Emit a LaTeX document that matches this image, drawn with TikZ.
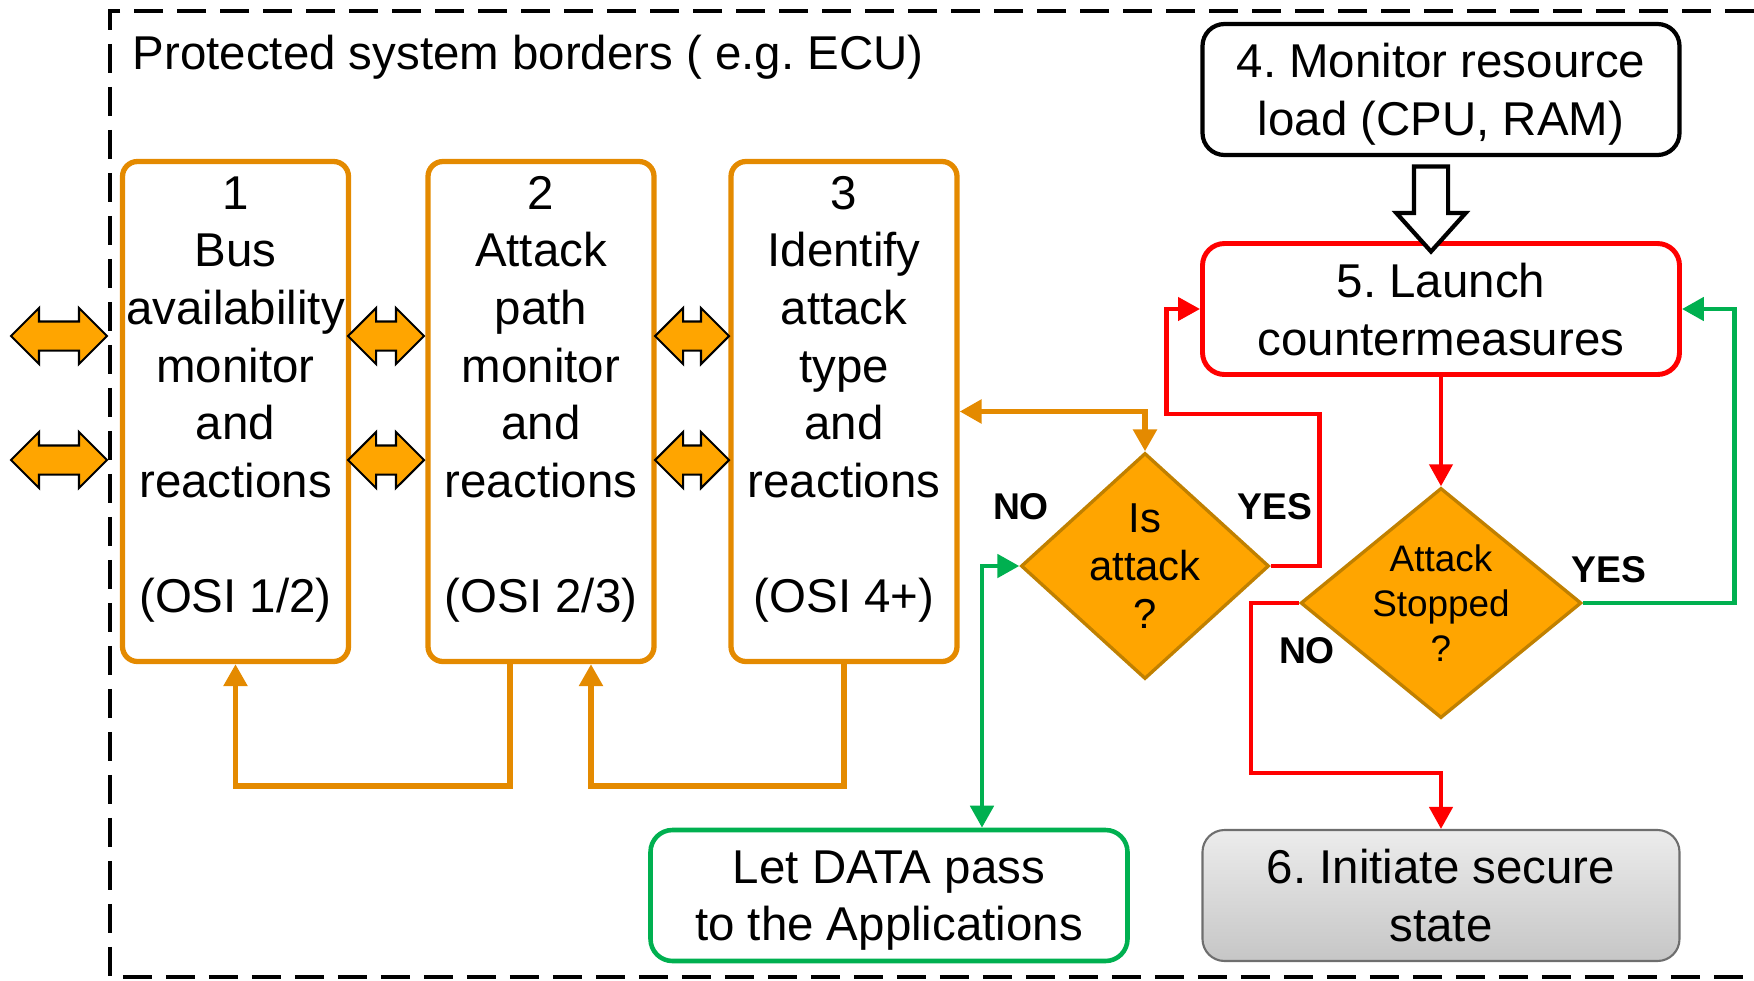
\documentclass[tikz,border=0pt]{standalone}
\usepackage{fontspec}
\setmainfont{Liberation Sans}
\usetikzlibrary{arrows.meta, shapes.geometric, shapes.arrows}
\frenchspacing

\definecolor{lineorange}{RGB}{228,138,0}
\definecolor{difill}{RGB}{255,165,0}
\definecolor{diborder}{RGB}{192,128,0}
\definecolor{alarmred}{RGB}{255,0,0}
\definecolor{passgreen}{RGB}{0,176,80}
\definecolor{shadetop}{RGB}{236,236,236}
\definecolor{shadebottom}{RGB}{198,198,198}
\definecolor{shadeborder}{RGB}{110,110,110}

\begin{document}
\begin{tikzpicture}
    % Define styles
    \tikzset{
        >={Triangle[length=0.22cm, width=0.23cm]},
        border/.style={line width=1.1pt, dash pattern=on 0.29cm off 0.14cm},
        boxtext/.style={font=\fontsize{13.5}{16.4}\selectfont, align=center},
        layer/.style={boxtext, draw=lineorange, line width=1.5pt, rounded corners=0.15cm,
            minimum width=2.26cm, minimum height=5.00cm, inner sep=0pt, text depth=0.34cm},
        action/.style={boxtext, rounded corners=0.22cm, minimum width=4.77cm, minimum height=1.31cm,
            text depth=0pt},
        decision/.style={diamond, draw=diborder, fill=difill, line width=0.95pt, inner sep=0pt, align=center},
        busarrow/.style={double arrow, draw=black, fill=difill, line width=0.6pt, minimum width=0.54cm,
            double arrow head extend=0.135cm, double arrow tip angle=90, inner xsep=0pt, inner ysep=0.135cm},
        loadarrow/.style={single arrow, draw=black, fill=white, line width=1.2pt, minimum width=0.65cm,
            minimum height=0.85cm, single arrow head extend=0.175cm, single arrow tip angle=84,
            inner xsep=0pt, inner ysep=0.15cm},
        feedback/.style={->, draw=lineorange, line width=1.6pt},
        alarm/.style={->, draw=alarmred, line width=1.25pt},
        pass/.style={->, draw=passgreen, line width=1.4pt},
        yesno/.style={font=\bfseries\fontsize{10.6}{12}\selectfont}
    }
    \useasboundingbox (0,0) rectangle (17.54,9.80);

    % Draw system border
    \draw[border] (17.54,9.69) -- (1.10,9.69) -- (1.10,0.03) -- (17.54,0.03);
    \node[boxtext, anchor=base west, inner sep=0pt] (title) at (1.32,9.11) {Protected system borders ( e.g. ECU)};

    % Draw the three monitor layers
    \node[layer] (b1) at (2.355,5.685) {1\\Bus\\availability\\monitor\\and\\reactions\\~\\(OSI 1/2)};
    \node[layer] (b2) at (5.41,5.685) {2\\Attack\\path\\monitor\\and\\reactions\\~\\(OSI 2/3)};
    \node[layer] (b3) at (8.44,5.685) {3\\Identify\\attack\\type\\and\\reactions\\~\\(OSI 4+)};

    % Draw bus arrows between the layers
    \foreach \y/\r in {6.44/a, 5.20/b} {
        \node[busarrow, minimum height=0.96cm] (ext\r) at (0.59,\y) {};
        \node[busarrow, minimum height=0.76cm] (link\r) at (3.86,\y) {};
        \node[busarrow, minimum height=0.74cm] (up\r) at (6.92,\y) {};
    }

    % Draw the resource and reaction boxes
    \node[action, draw=black, line width=1.2pt] (b4) at (14.41,8.905) {4. Monitor resource\\load (CPU, RAM)};
    \node[action, draw=alarmred, line width=1.4pt] (b5) at (14.41,6.71) {5. Launch\\countermeasures};
    \node[action, draw=passgreen, line width=1.3pt] (data) at (8.89,0.845) {Let DATA pass\\to the Applications};
    \node[action, draw=shadeborder, line width=0.6pt, top color=shadetop, bottom color=shadebottom] (b6)
        at (14.41,0.845) {6. Initiate secure\\state};

    % Draw decisions
    \node[decision, aspect=1.1, inner sep=-1pt, minimum width=2.48cm, minimum height=2.26cm,
        font=\fontsize{11.9}{13.7}\selectfont] (d1) at (11.45,4.14) {Is\\attack\\?};
    \node[decision, aspect=1.22, minimum width=2.76cm, minimum height=2.26cm,
        font=\fontsize{10.5}{12.9}\selectfont] (d2) at (14.41,3.77) {Attack\\Stopped\\?};

    % Draw load arrow
    \node[loadarrow, rotate=-90] (load) at (14.31,7.805) {};

    % Draw feedback between the layers
    \draw[feedback] ([xshift=-0.31cm]b2.south) -- ++(0,-1.22) -| (b1.south);
    \draw[feedback] (b3.south) -- ++(0,-1.22) -| ([xshift=0.50cm]b2.south);
    \draw[feedback, <->] (b3.east) -| (d1.north);

    % Draw decision branches
    \draw[alarm] (d1.east) -- ++(0.49,0) -- ++(0,1.52) -- ++(-1.53,0) |- (b5.west);
    \draw[pass, <->] ([xshift=0.93cm]data.north) |- (d1.west);
    \draw[alarm] (b5.south) -- (d2.north);
    \draw[pass] (d2.east) -- ++(1.51,0) |- (b5.east);
    \draw[alarm] (d2.west) -- ++(-0.48,0) |- ([yshift=0.56cm]b6.north) -- (b6.north);

    % Add branch labels
    \node[yesno] (no1) at (10.21,4.73) {NO};
    \node[yesno] (yes1) at (12.75,4.73) {YES};
    \node[yesno] (yes2) at (16.09,4.10) {YES};
    \node[yesno] (no2) at (13.07,3.29) {NO};
\end{tikzpicture}
\end{document}
